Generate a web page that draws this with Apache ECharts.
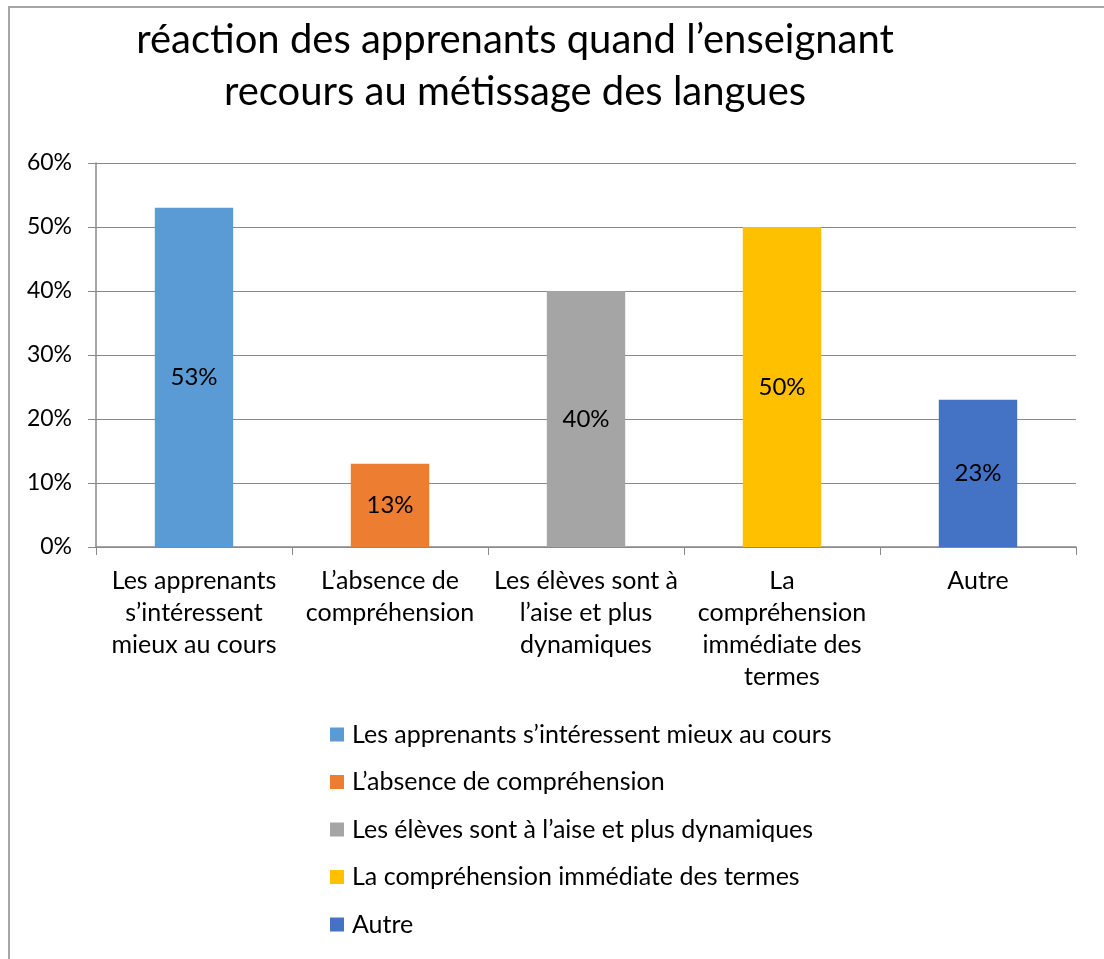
<!DOCTYPE html>
<html>
<head>
<meta charset="utf-8">
<script src="https://cdn.jsdelivr.net/npm/echarts@6/dist/echarts.min.js"></script>
<style>
  body { margin: 0; background: #fff; }
  #chart { width: 1104px; height: 959px; position: absolute; left: 0; top: 0; }
  #frame {
    position: absolute; left: 8px; top: 6px; width: 1200px; height: 1000px;
    border-top: 2px solid #a6a6a6; border-left: 2px solid #a6a6a6;
    pointer-events: none;
  }
</style>
</head>
<body>
<div id="chart"></div>
<div id="frame"></div>
<script>
var categories = [
  "Les apprenants\ns’intéressent\nmieux au cours",
  "L’absence de\ncompréhension",
  "Les élèves sont à\nl’aise et plus\ndynamiques",
  "La\ncompréhension\nimmédiate des\ntermes",
  "Autre"
];
var legendNames = [
  "Les apprenants s’intéressent mieux au cours",
  "L’absence de compréhension",
  "Les élèves sont à l’aise et plus dynamiques",
  "La compréhension immédiate des termes",
  "Autre"
];
var values = [53, 13, 40, 50, 23];
var colors = ["#5B9BD5", "#ED7D31", "#A5A5A5", "#FFC000", "#4472C4"];
var yTicks = { min: 0, max: 60, interval: 10 };

var font = "Lato, 'Open Sans', sans-serif";

// one series per category so the legend lists each bar
var series = legendNames.map(function(name, i) {
  var data = values.map(function(v, j) { return j === i ? v : "-"; });
  return {
    name: name,
    type: "bar",
    stack: "all",
    barCategoryGap: "60%",
    data: data,
    itemStyle: { color: colors[i] },
    label: {
      show: true,
      position: "inside",
      formatter: "{c}%",
      color: "#000",
      fontSize: 24,
      fontFamily: font
    }
  };
});

var chart = echarts.init(document.getElementById("chart"));
chart.setOption({
  animation: false,
  color: colors,
  title: {
    text: "réaction des apprenants quand l’enseignant\nrecours au métissage des langues",
    left: 510,
    top: 9,
    textAlign: "center",
    textStyle: {
      fontSize: 40,
      fontWeight: "normal",
      color: "#000",
      fontFamily: font,
      lineHeight: 52
    }
  },
  legend: {
    orient: "vertical",
    left: 325,
    top: 717,
    icon: "rect",
    itemWidth: 14,
    itemHeight: 14,
    itemGap: 22.5,
    data: legendNames,
    textStyle: {
      fontSize: 25, color: "#000", fontFamily: font, lineHeight: 25,
      padding: [0, 0, 0, 3]
    }
  },
  grid: { left: 96, right: 28, top: 163, bottom: 412 },
  xAxis: {
    type: "category",
    data: categories,
    axisLine: { lineStyle: { color: "#898989", width: 1.5 } },
    axisTick: { show: true, length: 8, lineStyle: { color: "#898989" } },
    axisLabel: {
      interval: 0,
      margin: 18,
      color: "#000",
      fontSize: 25,
      lineHeight: 32,
      fontFamily: font
    }
  },
  yAxis: {
    type: "value",
    min: yTicks.min,
    max: yTicks.max,
    interval: yTicks.interval,
    axisLine: { show: true, lineStyle: { color: "#898989", width: 1.5 } },
    axisTick: { show: true, length: 8, lineStyle: { color: "#898989" } },
    axisLabel: {
      formatter: "{value}%",
      margin: 24,
      color: "#000",
      fontSize: 23,
      fontFamily: font
    },
    splitLine: { lineStyle: { color: "#898989", width: 1 } }
  },
  series: series
});
</script>
</body>
</html>
